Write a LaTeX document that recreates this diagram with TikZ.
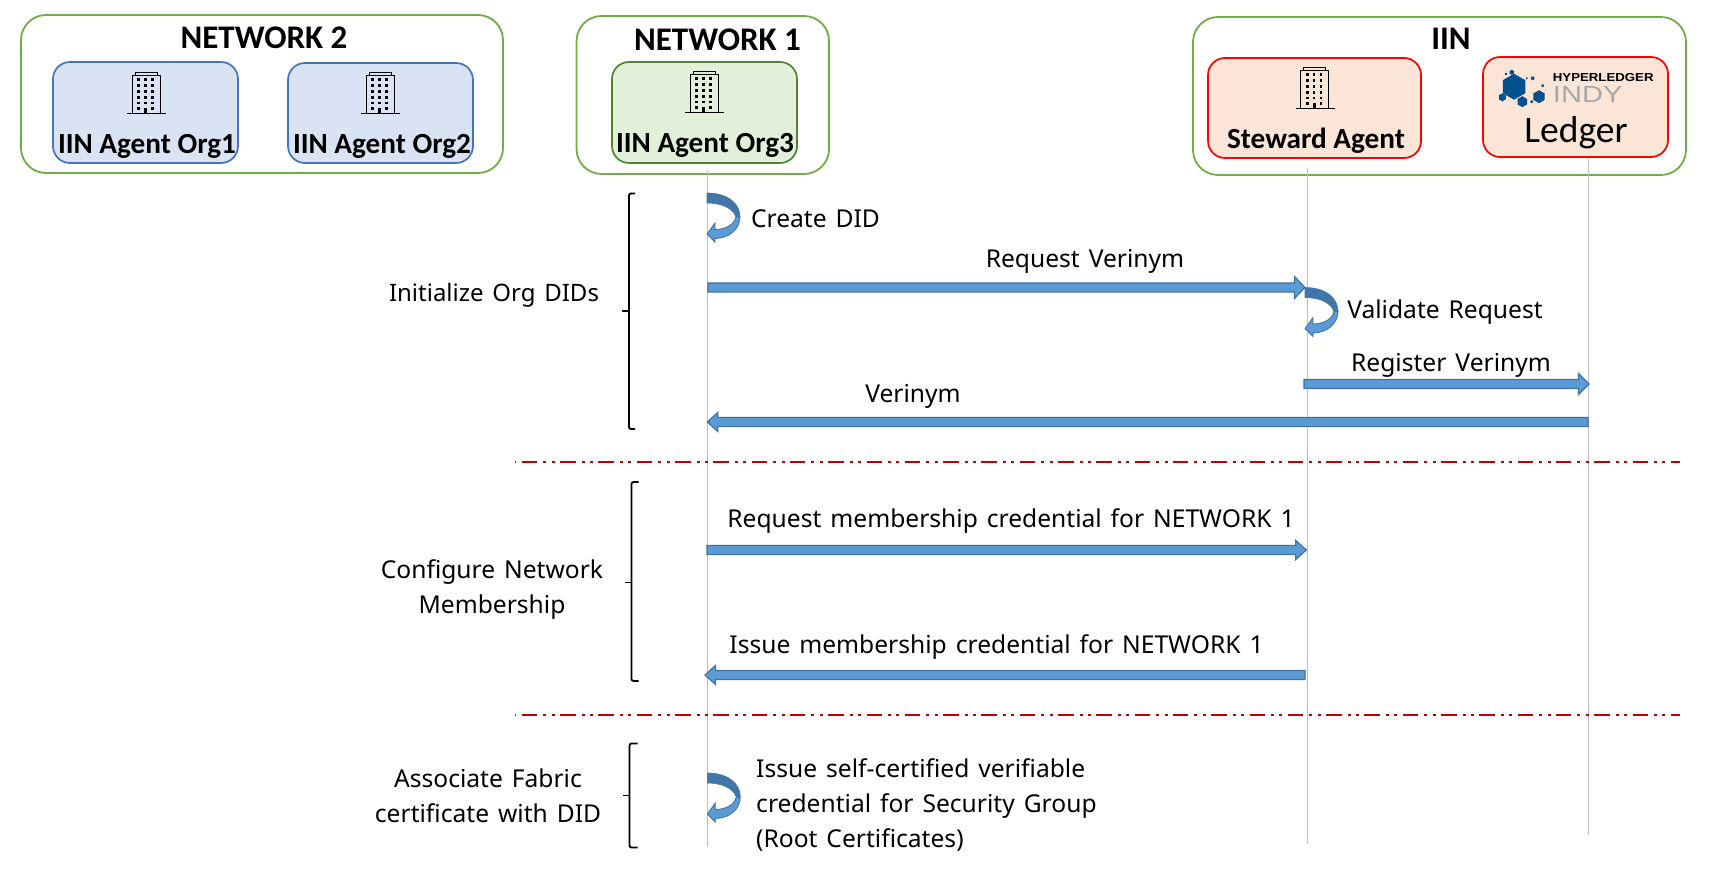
\documentclass[tikz,border=0pt]{standalone}
\usepackage{fontspec}
\usepackage{graphicx}
\setmainfont{Noto Sans}[WordSpace=1.4]
\newfontfamily\boldfam{Carlito}[BoldFont={Carlito Bold}]
\newfontfamily\logofam{Liberation Sans}
\usetikzlibrary{calc,shapes.geometric}
\definecolor{grn}{HTML}{70AD47}
\definecolor{dgrn}{HTML}{548235}
\definecolor{lgrn}{HTML}{E2F0D9}
\definecolor{blu}{HTML}{4472C4}
\definecolor{lblu}{HTML}{DAE3F3}
\definecolor{peach}{HTML}{FBE5D6}
\definecolor{arrfill}{HTML}{5B9BD5}
\definecolor{arrdark}{HTML}{41719C}
\definecolor{loopdark}{HTML}{4177A8}
\definecolor{dashred}{HTML}{C00000}
\definecolor{lifec}{HTML}{BFBFBF}
\definecolor{indyblue}{HTML}{05518F}
\definecolor{indygrey}{HTML}{A6A8AB}
\tikzset{
  group/.style={draw=grn,line width=1.8pt,fill=white,rounded corners=25pt,inner sep=0pt},
  org/.style={line width=1.7pt,rounded corners=17pt,inner sep=0pt},
  orgblue/.style={org,draw=blu,fill=lblu},
  orggreen/.style={org,draw=dgrn,fill=lgrn},
  orgred/.style={org,draw=red,fill=peach},
  boxlabel/.style={font=\boldfam\bfseries\fontsize{29.2}{32}\selectfont,inner sep=0pt,text=black},
  titlelabel/.style={font=\boldfam\bfseries\fontsize{33}{36}\selectfont,inner sep=0pt,text=black},
  msg/.style={font=\fontsize{24.6}{35}\selectfont,inner sep=0pt,align=center,text=black},
  lifeline/.style={draw=lifec,line width=1pt},
  blk/.style={draw=arrdark,fill=arrfill,line width=1.2pt,line join=miter},
  sep/.style={draw=dashred,line width=1.7pt,dash pattern=on 15.5pt off 6pt on 3pt off 5.4pt on 3pt off 5.4pt,dash phase=31.5pt},
  brk/.style={draw=black,line width=1.8pt,rounded corners=2pt},
  hexa/.style={regular polygon,regular polygon sides=6,shape border rotate=30,fill=indyblue,inner sep=0pt,draw=none},
  pics/building/.style={code={
    \draw[line width=1pt] (0,42) -- (39,42);
    \draw[line width=1pt] (5,42) -- (5,3.5) -- (33,3.5) -- (33,42);
    \draw[line width=1pt] (8,3.5) -- (8,0.5) -- (30,0.5) -- (30,3.5);
    \foreach \wx in {11.7,18.5,25.5}
      \foreach \wy in {7.7,13.5,19.5,25.5,31}
        \fill (\wx-1.3,\wy-1.3) rectangle (\wx+1.3,\wy+1.3);
    \foreach \wx in {11.7,25.5} \fill (\wx-1.3,35.5) rectangle (\wx+1.3,38.5);
    \fill (17,36) rectangle (20,42);
  }},
  pics/selfloop/.style={code={
    \draw[draw=arrdark,fill=arrfill,line width=0.8pt,line join=miter]
      (33,24) .. controls (33,36) and (22,45.5) .. (8,45.5) -- (8,49) -- (0,41) -- (8,30) -- (8,36.5)
      .. controls (18,36.5) and (27,32) .. (29,24) -- cycle;
    \draw[draw=loopdark,fill=loopdark,line width=0.6pt]
      (0,0) .. controls (20,0) and (33,10) .. (33,24) -- (29,24)
      .. controls (26,15) and (14,10) .. (0,10) -- cycle;
  }}
}
% [body half-height]{head half-height}{from}{to}
\newcommand{\blockarrow}[4][4.5]{%
  \draw[blk] let \p1=(#3),\p2=(#4),\n1={ifthenelse(\x2>\x1,1,-1)} in
    (\x1,\y1+#1pt) -- ({\x2-\n1*10.5pt},\y1+#1pt) -- ({\x2-\n1*10.5pt},\y1+#2pt)
    -- (\x2,\y1) -- ({\x2-\n1*10.5pt},\y1-#2pt) -- ({\x2-\n1*10.5pt},\y1-#1pt) -- (\x1,\y1-#1pt) -- cycle;}
\newcommand{\bracketshape}[5]{% x, top, mid, bottom, tick length
  \draw[brk] (#1+#5,#2) -- (#1,#2) -- (#1,#4) -- (#1+#5,#4);
  \draw[draw=black,line width=1.8pt] (#1-7,#3) -- (#1,#3);}
\begin{document}
\begin{tikzpicture}[x=1pt,y=-1pt]
\useasboundingbox (0,0) rectangle (1711,874);
\fill[white] (0,0) rectangle (1711,874);

% group boxes
\node[group,minimum width=482pt,minimum height=158pt] (net2) at (262,94) {};
\node[group,minimum width=252.5pt,minimum height=158pt] (net1) at (702.8,95) {};
\node[group,minimum width=493pt,minimum height=158pt] (iin) at (1439.5,96) {};

% organisation boxes
\node[orgblue,minimum width=185pt,minimum height=101pt] (org1) at (145.5,112.5) {};
\node[orgblue,minimum width=185pt,minimum height=100pt] (org2) at (380.5,113) {};
\node[orggreen,minimum width=185pt,minimum height=101pt] (org3) at (704.5,112.5) {};
\node[orgred,minimum width=213pt,minimum height=100pt] (steward) at (1314.5,108) {};
\node[orgred,minimum width=185pt,minimum height=100pt] (ledger) at (1575.5,107) {};

% titles
\node[titlelabel] (t2) at (264,38) {NETWORK 2};
\node[titlelabel] (t1) at (717.5,40) {NETWORK 1};
\node[titlelabel] (t3) at (1451,39) {IIN};
\node[boxlabel] (l1) at (147,146) {IIN Agent Org1};
\node[boxlabel] (l2) at (382,146) {IIN Agent Org2};
\node[boxlabel] (l3) at (705,145) {IIN Agent Org3};
\node[boxlabel] (l4) at (1316,141) {Steward Agent};
\node[font=\boldfam\fontsize{37.5}{40}\selectfont,inner sep=0pt] (l5) at (1576,133) {Ledger};

% building icons
\pic at (127,72) {building};
\pic at (361,72) {building};
\pic at (685,71) {building};
\pic at (1295.5,67) {building};

% Indy logo
\node[hexa,minimum size=26pt] (hx1) at (1514,86.7) {};
\node[hexa,minimum size=8pt] (hx2) at (1502.3,97.3) {};
\node[hexa,minimum size=11pt] (hx3) at (1522.3,101.7) {};
\node[hexa,minimum size=13pt] (hx4) at (1539,96.7) {};
\node[hexa,minimum size=5pt] (hx5) at (1511.7,72.3) {};
\node[hexa,minimum size=4pt] (hx6) at (1532.7,78.3) {};
\node[hexa,minimum size=3pt] (hx7) at (1542.7,85.7) {};
\node[hexa,minimum size=3pt] (hx8) at (1531.7,101.7) {};
\node[hexa,minimum size=2.5pt] (hx9) at (1506,74) {};
\node[hexa,minimum size=2pt] (hx10) at (1526.7,78.3) {};
\node[inner sep=0pt,anchor=west] (hl) at (1552.7,77.5) {\scalebox{1.14}[1]{\logofam\bfseries\fontsize{11.6}{12}\selectfont HYPERLEDGER}};
\node[inner sep=0pt,anchor=west,text=indygrey] (indy) at (1552.7,94.3) {\scalebox{1.25}[1]{\logofam\fontsize{23.3}{24}\selectfont INDY}};

% lifelines
\coordinate (e3) at (707,847);
\coordinate (e4) at (1307,844);
\coordinate (e5) at (1588,835);
\coordinate (s3) at (707,170);
\coordinate (s4) at (1307,168);
\draw[lifeline] (s3) -- (e3);
\draw[lifeline] (s4) -- (e4);
\draw[lifeline] (ledger.south -| e5) -- (e5);

% separators
\coordinate (d1a) at (515,462);
\coordinate (d1b) at (1680,462);
\coordinate (d2a) at (515,715);
\coordinate (d2b) at (1680,715);
\draw[sep] (d1a) -- (d1b);
\draw[sep] (d2a) -- (d2b);

% block arrows
\coordinate (a1) at (708,287.5);   \coordinate (b1) at (1305,287.5);
\coordinate (a2) at (1304,384);    \coordinate (b2) at (1589,384);
\coordinate (a3) at (1588,422);    \coordinate (b3) at (707.3,422);
\coordinate (a4) at (707,550);     \coordinate (b4) at (1306.3,550);
\coordinate (a5) at (1305,675);    \coordinate (b5) at (705,675);
\blockarrow[4.5]{11}{a1}{b1}
\blockarrow[4.5]{10.5}{a2}{b2}
\blockarrow[4.5]{9.5}{a3}{b3}
\blockarrow[4.5]{9.5}{a4}{b4}
\blockarrow[4.5]{9.5}{a5}{b5}

% self arrows
\pic at (707,193) {selfloop};
\pic at (1305,287.5) {selfloop};
\pic at (707.3,773) {selfloop};

% brackets
\bracketshape{629}{193.5}{311}{429}{6}
\bracketshape{631.5}{482}{582.5}{681}{7}
\bracketshape{629.5}{743.5}{795.5}{847.5}{8}

% messages
\node[msg] (m1) at (815.5,219) {Create DID};
\node[msg] (m2) at (1085,261.5) {Request Verinym};
\node[msg] (m3) at (1445,312) {Validate Request};
\node[msg] (m4) at (1451,365) {Register Verinym};
\node[msg] (m5) at (913,396) {Verinym};
\node[msg] (m6) at (1011,521) {Request membership credential for NETWORK 1};
\node[msg] (m7) at (996.5,647) {Issue membership credential for NETWORK 1};
\node[msg,align=left,anchor=west] (m8) at (756,805) {Issue self-certified verifiable\\credential for Security Group\\(Root Certificates)};
\node[msg,font=\fontsize{24}{35}\selectfont] (g1) at (494,295) {Initialize Org DIDs};
\node[msg] (g2) at (492,589.5) {Configure Network\\Membership};
\node[msg] (g3) at (488,796) {Associate Fabric\\certificate with DID};
\end{tikzpicture}
\end{document}
